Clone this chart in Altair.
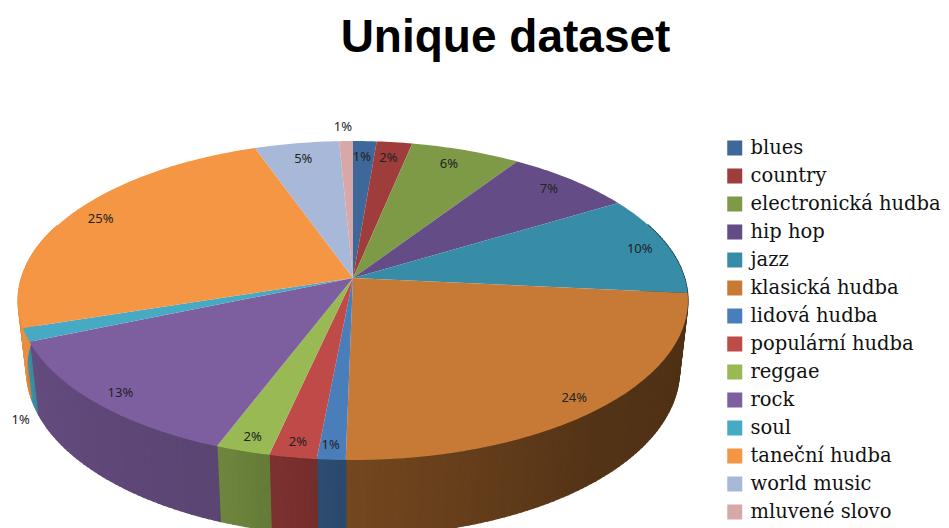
import math
import altair as alt
import pandas as pd

names = ["blues", "country", "electronická hudba", "hip hop", "jazz", "klasická hudba",
         "lidová hudba", "populární hudba", "reggae", "rock", "soul", "taneční hudba",
         "world music", "mluvené slovo"]
shares = [1.3, 1.96, 6.07, 7.07, 10.1, 23.8, 1.2, 2.0, 2.3, 12.9, 1.36, 24.5, 4.68, 0.76]
labels = ["1%", "2%", "6%", "7%", "10%", "24%", "1%", "2%", "2%", "13%", "1%", "25%", "5%", "1%"]
colors = ["#3d6899", "#9e3d3b", "#7e9a47", "#644d86", "#378ca8", "#c77a35", "#4a7ebb",
          "#be4b48", "#98b954", "#7d5f9f", "#46aac5", "#f59644", "#a8b8d8", "#d8a8a8"]
label_pct = [0.55, 2.2, 6.0, 12.8, 21.6, 38.6, 51.0, 52.5, 54.6, 62.1, 63.3, 82.3, 96.9, 99.5]
label_r = [0.87, 0.87, 0.875, 0.892, 0.909, 0.917, 0.93, 0.925, 0.929, 0.922, 1.198, 0.896, 0.868, 1.118]
shade_angle = [0, 95, 140, 181, 185, 200, 247, 262, 360]
shade_value = [0.39, 0.39, 0.42, 0.58, 0.60, 0.72, 0.80, 0.95, 0.95]

# tilted-disc view of the pie
CX, CY, A, B, P = 353, 278, 331.6, 156.3, 0.141
DEPTH, XS, YS = 68.5, 0.975, 1.04


def top(t, r=1.0):
    u, v = r * math.sin(t), r * math.cos(t)
    k = 1 + P * v
    return CX + A * u / k, CY - B * v / k


def bottom(t):
    x, y = top(t)
    return CX + XS * (x - CX), CY + DEPTH + YS * (y - CY)


def feature(pts, **props):
    ring = [[x, -y] for x, y in pts]
    ring.append(ring[0])
    return {"type": "Feature", "geometry": {"type": "Polygon", "coordinates": [ring]}, "properties": props}


def shade(deg):
    for i in range(len(shade_angle) - 1):
        if shade_angle[i] <= deg <= shade_angle[i + 1]:
            f = (deg - shade_angle[i]) / (shade_angle[i + 1] - shade_angle[i])
            return shade_value[i] + f * (shade_value[i + 1] - shade_value[i])
    return shade_value[-1]


def darker(hexcol, f):
    rgb = [int(hexcol[i:i + 2], 16) for i in (1, 3, 5)]
    return "#%02x%02x%02x" % tuple(min(255, round(c * f)) for c in rgb)


top_features, wall_features = [], []
cum = 0.0
for name, share, col in zip(names, shares, colors):
    a0, a1 = cum / 100 * 360, (cum + share) / 100 * 360
    cum += share
    n = max(2, int(a1 - a0) + 1)
    angles = [a0 + (a1 - a0) * i / n for i in range(n + 1)]
    rim = [top(math.radians(d)) for d in angles]
    top_features.append(feature([(CX, CY)] + rim, name=name))
    m = max(1, int(a1 - a0))
    for i in range(m):
        d0 = a0 + (a1 - a0) * i / m
        d1 = a0 + (a1 - a0) * (i + 1) / m
        if d1 < 70 or d0 > 290:
            continue
        r0, r1 = math.radians(d0), math.radians(d1)
        fill = darker(col, shade((d0 + d1) / 2))
        wall_features.append(feature([top(r0), top(r1), bottom(r1), bottom(r0)], fill=fill))

label_rows = []
for txt, pct, r in zip(labels, label_pct, label_r):
    x, y = top(math.radians(pct * 3.6), r)
    label_rows.append({"label": txt, "lon": x, "lat": -y})

proj = dict(type="identity", scale=1, translate=[-8, -8], reflectY=True)

walls = alt.Chart(alt.Data(values=wall_features)).mark_geoshape(strokeWidth=1.2).encode(
    fill=alt.Fill("properties.fill:N", scale=None, legend=None),
    stroke=alt.Stroke("properties.fill:N", scale=None, legend=None),
).project(**proj)

slices = alt.Chart(alt.Data(values=top_features)).mark_geoshape(strokeWidth=0).encode(
    fill=alt.Fill(
        "properties.name:N",
        scale=alt.Scale(domain=names, range=colors),
        sort=names,
        legend=alt.Legend(
            title=None, orient="none", legendX=717, legendY=126, symbolType="square",
            symbolSize=225, symbolStrokeWidth=0, labelFont="DejaVu Serif", labelFontSize=19.5,
            labelColor="#111111", labelOffset=6, rowPadding=0, clipHeight=28, labelLimit=260,
            symbolOpacity=1, padding=0,
        ),
    ),
).project(**proj)

text = alt.Chart(pd.DataFrame(label_rows)).mark_text(
    font="Noto Sans", fontSize=13, color="#222222"
).encode(longitude="lon:Q", latitude="lat:Q", text="label:N").project(**proj)

chart = alt.layer(walls, slices, text).resolve_scale(fill="independent").properties(
    width=933, height=520, padding=0,
    autosize=alt.AutoSizeParams(type="none"),
    title=alt.TitleParams("Unique dataset", anchor="middle", dx=31, dy=58, font="Liberation Sans",
                          fontSize=46, fontWeight="bold", color="#000000"),
).configure_view(stroke=None)

chart.save("out.html", embed_options={"renderer": "svg", "actions": False})
